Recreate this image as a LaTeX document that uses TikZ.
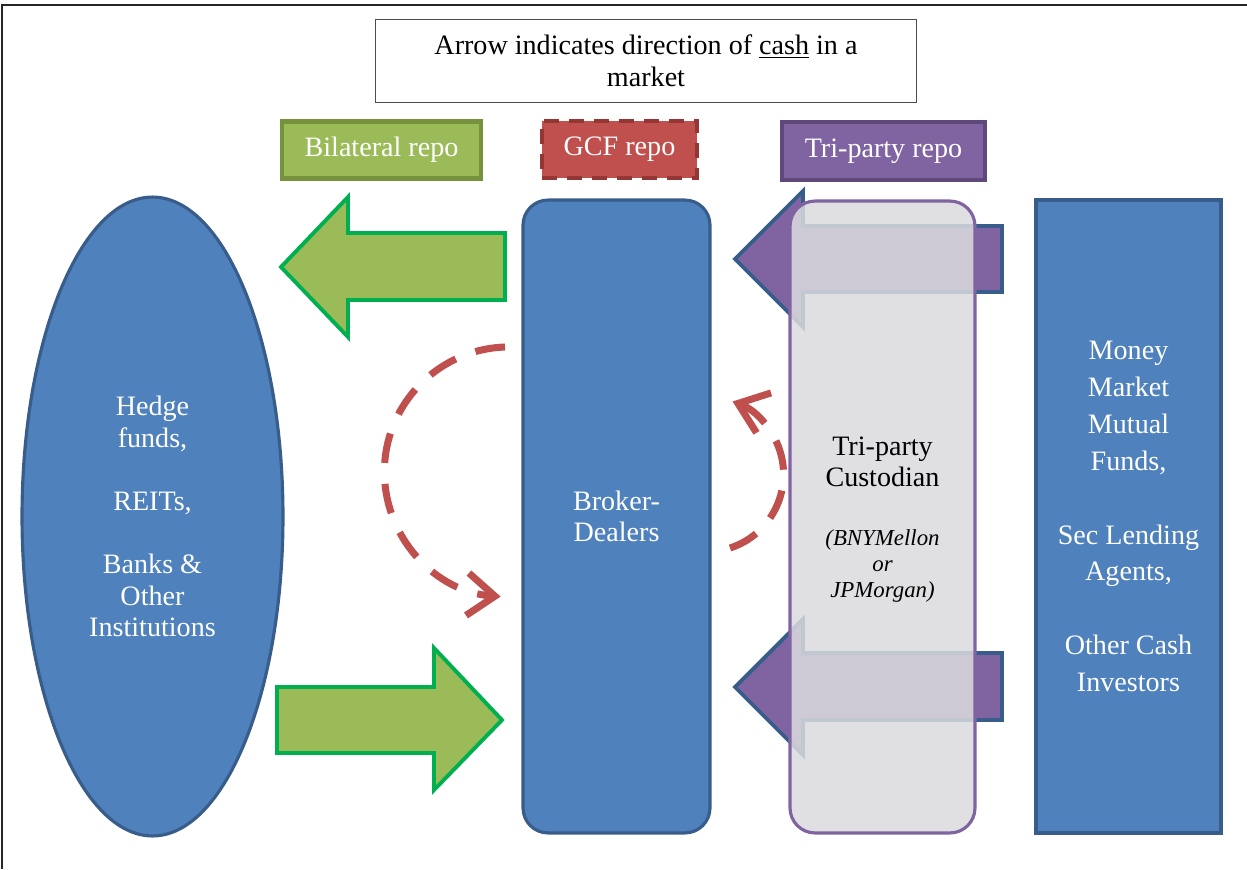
\documentclass[tikz,border=0pt]{standalone}
\usepackage{fontspec}
\setmainfont{Liberation Serif}
\usepackage{tikz}
\usetikzlibrary{arrows.meta}
\usetikzlibrary{shapes.geometric}
\definecolor{boxblue}{HTML}{4F81BD}
\definecolor{lineblue}{HTML}{385D8A}
\definecolor{legreen}{HTML}{9BBB59}
\definecolor{legreenline}{HTML}{76923C}
\definecolor{brightgreen}{HTML}{00B050}
\definecolor{gcfred}{HTML}{C0504D}
\definecolor{gcfredline}{HTML}{943634}
\definecolor{tripurple}{HTML}{8064A2}
\definecolor{tripurpleline}{HTML}{5F497A}
\definecolor{custgray}{RGB}{219,219,222}
\newcommand{\bodyfont}{\fontsize{16}{18}\selectfont}
\newcommand{\bankfont}{\fontsize{13}{15}\selectfont\itshape}
\tikzset{
  legbox/.style = {align=center, text=white, font=\bodyfont, line width=2.4pt},
  legbilat/.style = {legbox, fill=legreen, draw=legreenline,
    minimum width=3.98cm, minimum height=1.14cm},
  leggcf/.style = {legbox, fill=gcfred, draw=gcfredline,
    dash pattern=on 0.3cm off 0.2cm, minimum width=3.1cm, minimum height=1.14cm},
  legtri/.style = {legbox, fill=tripurple, draw=tripurpleline,
    minimum width=4.06cm, minimum height=1.16cm},% legend boxes
  bluebox/.style = {draw=lineblue, fill=boxblue, line width=1.8pt,
    text=white, align=center, font=\bodyfont},
  cashgreen/.style = {draw=brightgreen, fill=legreen, line width=2.2pt,
    line join=miter},
  cashpurple/.style = {draw=lineblue, fill=tripurple, line width=2.2pt,
    line join=miter},
  gcfloop/.style = {draw=gcfred, line width=4pt, dash pattern=on 0.6cm off 0.42cm,
    -{Straight Barb[length=0.55cm, width=0.85cm]}},
  custtext/.style = {align=center, text=black}
}

\begin{document}
\begin{tikzpicture}[x=0.02cm, y=-0.02cm]
\useasboundingbox (0,0) rectangle (1247,869);
\draw[line width=0.9pt, black!85] (1247,5) -- (2,5) -- (2,869);

\node[draw=black!70, line width=0.6pt, align=center, font=\bodyfont,
  minimum width=10.84cm, minimum height=1.66cm] (note) at (646,61)
  {Arrow indicates direction of \underline{cash} in a\\market};

\node[legbilat] (bilat) at (381.5,150) {Bilateral repo};
\node[leggcf] (gcf) at (619.5,149.5) {GCF repo};
\node[legtri] (trirepo) at (883.5,151) {Tri-party repo};

\node[bluebox, ellipse, minimum width=5.22cm, minimum height=12.78cm] (hedge)
  at (152.5,516.5)
  {Hedge\\funds,\\[18pt]REITs,\\[18pt]Banks \&\\Other\\Institutions};

% bilateral repo cash
\draw[cashgreen] (281,267) -- (348,197) -- (348,233) -- (505,233)
  -- (505,300) -- (348,300) -- (348,337) -- cycle;
\draw[cashgreen] (502,720) -- (434,648) -- (434,687) -- (277,687)
  -- (277,753) -- (434,753) -- (434,790) -- cycle;

\node[bluebox, rounded corners=0.5cm, minimum width=3.74cm, minimum height=12.66cm]
  (broker) at (616.5,516.5) {Broker-\\Dealers};

% tri-party repo cash
\draw[cashpurple] (735,259) -- (803,191) -- (803,226) -- (1002,226)
  -- (1002,292) -- (803,292) -- (803,327) -- cycle;
\draw[cashpurple] (735,687) -- (803,619) -- (803,653) -- (1002,653)
  -- (1002,720) -- (803,720) -- (803,755) -- cycle;

\node[draw=tripurple, fill=custgray, fill opacity=0.85, line width=1.8pt,
  rounded corners=0.5cm, minimum width=3.7cm, minimum height=12.64cm]
  (custodian) at (882.5,517) {};
\node[custtext, font=\bodyfont] (custname) at (882.5,462) {Tri-party\\Custodian};
\node[custtext, font=\bankfont] (custbank) at (882.5,566) {(BNYMellon\\or\\JPMorgan)};

\node[bluebox, minimum width=3.7cm, minimum height=12.66cm, font=\fontsize{16}{21}\selectfont]
  (lenders) at (1128.5,516.5)
  {Money\\Market\\Mutual\\Funds,\\[21pt]Sec Lending\\Agents,\\[21pt]Other Cash\\Investors};

% gcf repo cash
\coordinate (gcfout) at (505,347);
\coordinate (gcfback) at (730,548);
\draw[gcfloop] (gcfout) arc[start angle=92, end angle=266, radius=2.5cm];
\draw[gcfloop] (gcfback) arc[start angle=-72, end angle=70, radius=1.55cm];
\end{tikzpicture}
\end{document}
